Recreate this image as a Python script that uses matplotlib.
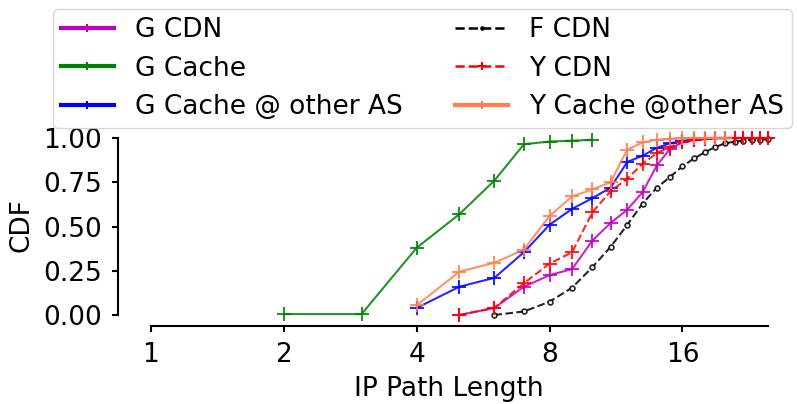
import matplotlib
matplotlib.use('Agg')
import matplotlib.pyplot as plt
from matplotlib.ticker import FixedLocator, FixedFormatter

# data (IP path length vs CDF)
g_cdn_x = [5, 6, 7, 8, 9, 10, 11, 12, 13, 14, 15, 16, 17, 18, 19, 20, 21, 22, 23, 24, 25]
g_cdn_y = [0.0, 0.04, 0.16, 0.225, 0.26, 0.42, 0.52, 0.595, 0.695, 0.845, 0.94, 0.975,
           0.99, 0.995, 1.0, 1.0, 1.0, 1.0, 1.0, 1.0, 1.0]

g_cache_x = [2, 3, 4, 5, 6, 7, 8, 9, 10]
g_cache_y = [0.005, 0.005, 0.38, 0.57, 0.76, 0.965, 0.98, 0.985, 0.99]

g_other_x = [4, 5, 6, 7, 8, 9, 10, 11, 12, 13, 14, 15, 16, 17, 18, 19, 20]
g_other_y = [0.04, 0.16, 0.21, 0.355, 0.51, 0.60, 0.66, 0.72, 0.865, 0.90, 0.945, 0.97,
             0.985, 0.99, 0.995, 1.0, 1.0]

f_cdn_x = [6, 7, 8, 9, 10, 11, 12, 13, 14, 15, 16, 17, 18, 19, 20, 21, 22, 23, 24, 25]
f_cdn_y = [0.0, 0.02, 0.075, 0.155, 0.27, 0.385, 0.51, 0.63, 0.72, 0.78, 0.84, 0.885,
           0.92, 0.95, 0.97, 0.98, 0.985, 0.99, 0.99, 0.995]

y_cdn_x = [5, 6, 7, 8, 9, 10, 11, 12, 13, 14, 15, 16, 17, 18, 19, 20, 21, 22, 23, 24, 25]
y_cdn_y = [0.0, 0.04, 0.18, 0.29, 0.355, 0.58, 0.70, 0.77, 0.855, 0.915, 0.95, 0.98,
           0.99, 0.995, 1.0, 1.0, 1.0, 1.0, 1.0, 1.0, 1.0]

y_other_x = [4, 5, 6, 7, 8, 9, 10, 11, 12, 13, 14, 15, 16, 17, 18, 19, 20]
y_other_y = [0.055, 0.245, 0.295, 0.37, 0.56, 0.67, 0.71, 0.75, 0.935, 0.975, 0.99, 0.995,
             1.0, 1.0, 1.0, 1.0, 1.0]

x_ticks = [1, 2, 4, 8, 16]
x_labels = ['1', '2', '4', '8', '16']
y_ticks = [0.0, 0.25, 0.5, 0.75, 1.0]

plt.rcParams['font.family'] = 'DejaVu Sans'
plt.rcParams['font.size'] = 19

fig = plt.figure(figsize=(7.97, 4.04), dpi=100)
ax = fig.add_axes([129 / 797, 89 / 404, 639 / 797, 180.5 / 404])

kw = dict(lw=1.5, alpha=0.85, clip_on=False)
ax.plot(g_cdn_x, g_cdn_y, color='m', marker='+', ms=9.5, mew=1.5, label='G CDN', **kw)
ax.plot(g_cache_x, g_cache_y, color='g', marker='+', ms=9.5, mew=1.5, label='G Cache', **kw)
ax.plot(g_other_x, g_other_y, color='b', marker='+', ms=9.5, mew=1.5, label='G Cache @ other AS', **kw)
ax.plot(f_cdn_x, f_cdn_y, color='k', ls='--', marker='o', ms=3.5, mfc='white', mec='black',
        mew=1.2, label='F CDN', **kw)
ax.plot(y_cdn_x, y_cdn_y, color='r', ls='--', marker='+', ms=9.5, mew=1.5, label='Y CDN', **kw)
ax.plot(y_other_x, y_other_y, color='coral', marker='+', ms=9.5, mew=1.5, label='Y Cache @other AS', **kw)

ax.set_xscale('log', base=2)
ax.set_xlim(0.892, 25)
ax.set_ylim(0, 1.02)
ax.xaxis.set_major_locator(FixedLocator(x_ticks))
ax.xaxis.set_major_formatter(FixedFormatter(x_labels))
ax.xaxis.set_minor_locator(FixedLocator([]))
ax.set_yticks(y_ticks)
ax.set_yticklabels(['%.2f' % v for v in y_ticks])

# offset, trimmed spines
for s in ['top', 'right']:
    ax.spines[s].set_visible(False)
ax.spines['left'].set_position(('outward', 8))
ax.spines['bottom'].set_position(('outward', 8))
ax.spines['left'].set_bounds(0, 1)
ax.spines['bottom'].set_bounds(1, 25)
ax.spines['left'].set_linewidth(1.5)
ax.spines['bottom'].set_linewidth(1.5)
ax.tick_params(width=1.5, length=4.5, pad=7, labelsize=19)

ax.set_xlabel('IP Path Length', labelpad=6)
ax.set_ylabel('CDF', labelpad=6)

leg = ax.legend(ncol=2, loc='lower left', bbox_to_anchor=(53 / 797, 1 - 128 / 404),
                bbox_transform=fig.transFigure, borderaxespad=0, fontsize=19,
                markerscale=0.6, borderpad=0.3, labelspacing=0.47)
for line in leg.get_lines():
    line.set_alpha(1)
    if line.get_linestyle() == '--':
        line.set_linewidth(1.8)
        line.set_markerfacecolor(line.get_color())
    else:
        line.set_linewidth(3)

fig.savefig('out.png', dpi=100)
